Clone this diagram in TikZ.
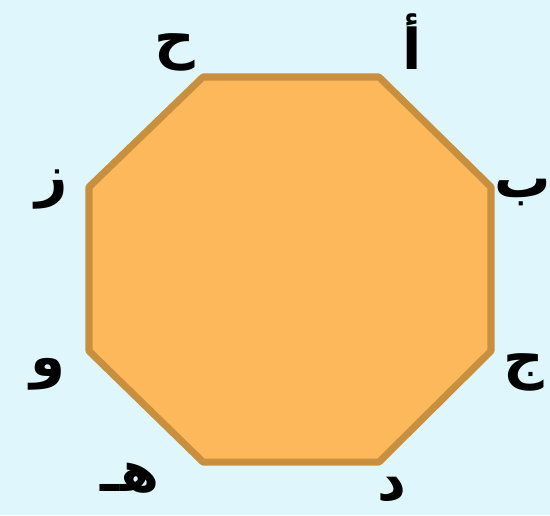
\documentclass[tikz,border=0pt]{standalone}
\usepackage{fontspec}
\newfontfamily\arabicfont[Script=Arabic]{DejaVu Sans}
\TeXXeTstate=1
\usepackage{xcolor}
\usetikzlibrary{positioning}
\definecolor{bgblue}{HTML}{DEF6FC}
\definecolor{octfill}{HTML}{FDB85C}
\definecolor{octdraw}{HTML}{C8903E}
\tikzstyle{octagon} = [draw=octdraw, fill=octfill, line width=4pt, line join=round]
\tikzstyle{vlabel} = [font=\arabicfont\bfseries\fontsize{32}{36}\selectfont, text=black, inner sep=0pt]

\begin{document}
\begin{tikzpicture}[x=0.02cm, y=-0.02cm]
    \fill[bgblue] (0,0) rectangle (550,515);
    \useasboundingbox (0,0) rectangle (550,515);

    % corners of the octagon
    \coordinate (A) at (379,77);
    \coordinate (B) at (491,187);
    \coordinate (C) at (491,351);
    \coordinate (D) at (379,462);
    \coordinate (E) at (203,462);
    \coordinate (F) at (89,351);
    \coordinate (G) at (89,187);
    \coordinate (H) at (203,77);

    \draw [octagon] (A) -- (B) -- (C) -- (D) -- (E) -- (F) -- (G) -- (H) -- cycle;

    % letters
    \node (labelA) [vlabel] at (412,42) {\beginR أ\endR};
    \node (labelB) [vlabel] at (523,192) {\beginR ب\endR};
    \node (labelC) [vlabel] at (524,372) {\beginR ج\endR};
    \node (labelD) [vlabel] at (392,490) {\beginR د\endR};
    \node (labelE) [vlabel] at (130,478) {\beginR هـ\endR};
    \node (labelF) [vlabel] at (48,374) {\beginR و\endR};
    \node (labelG) [vlabel] at (52,190) {\beginR ز\endR};
    \node (labelH) [vlabel] at (175,52) {\beginR ح\endR};
\end{tikzpicture}
\end{document}
